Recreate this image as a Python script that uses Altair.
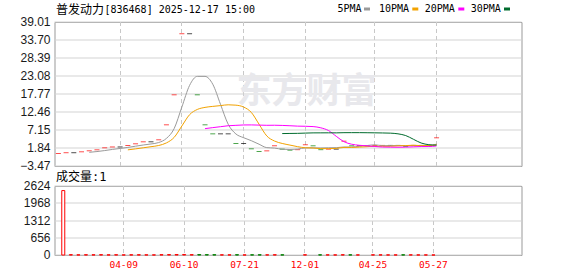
import altair as alt
import pandas as pd

# ---------------- data ----------------
k_idx = list(range(50))
close = [0.22, 0.45, 0.45, 0.72, 1.02, 1.31, 1.90, 2.15, 2.15, 2.58,
         3.08, 3.67, 3.67, 4.26, 8.68, 17.53, 35.55, 35.55, 17.53, 8.68,
         6.02, 6.02, 6.02, 3.17, 3.17, 1.60, 0.81, 1.00, 2.50, 1.50,
         1.20, 1.35, 2.80, 2.49, 1.35, 1.50, 1.50, 3.85, 2.49, 2.49,
         2.49, 2.58, 2.60, 2.60, 2.60, 2.30, 2.60, 2.60, 2.60, 4.85]
# u = up (red), d = down (green), f = flat (black)
direction = ["u", "u", "f", "u", "u", "u", "u", "u", "f", "u",
             "u", "u", "f", "u", "u", "u", "u", "f", "d", "d",
             "d", "f", "f", "d", "f", "d", "d", "u", "u", "d",
             "d", "u", "u", "d", "d", "u", "f", "u", "d", "f",
             "f", "u", "u", "f", "f", "d", "u", "f", "f", "u"]
volume = [2450, 12, 6, 10, 8, 12, 6, 10, 4, 8,
          10, 6, 4, 12, 15, 18, 20, 12, 15, 12,
          10, 6, 6, 10, 4, 6, 8, 6, 10, 6,
          0, 0, 8, 0, 6, 6, 4, 10, 6, 4,
          0, 6, 6, 4, 4, 6, 6, 4, 4, 1]

tick_pos = [8, 16, 24, 32, 41, 49]
tick_labels = ["04-09", "06-10", "07-21", "12-01", "04-25", "05-27"]
price_ticks = [-3.47, 1.84, 7.15, 12.46, 17.77, 23.08, 28.39, 33.70, 39.01]
vol_ticks = [0, 656, 1312, 1968, 2624]

ma_periods = [5, 10, 20, 30]
ma_names = ["5PMA", "10PMA", "20PMA", "30PMA"]
ma_colors = ["#9a9a9a", "#f2a200", "#ff00ff", "#006b2d"]

title_name = "普发动力"
title_rest = "[836468] 2025-12-17 15:00"
vol_title = "成交量:1"
watermark = "东方财富"

RED, GREEN, BLACK = "#ff0000", "#008000", "#000000"
df = pd.DataFrame({"k": k_idx, "close": close, "dir": direction, "vol": volume})

W, H_MAIN, H_VOL = 467, 144, 69
xscale = alt.Scale(domain=[-0.5, 60], nice=False, zero=False)
yscale = alt.Scale(domain=[price_ticks[0], price_ticks[-1]], nice=False, zero=False)
label_expr = " : ".join(f"datum.value == {p} ? '{l}'" for p, l in zip(tick_pos, tick_labels)) + " : ''"

x_main = alt.X("k:Q", scale=xscale, title=None,
               axis=alt.Axis(values=tick_pos, labels=False, ticks=False, domain=False,
                             grid=True, gridDash=[4, 3], gridColor="#c8c8c8",
                             minExtent=0, maxExtent=0))
y_axis_main = alt.Axis(values=price_ticks, format=".2f", grid=True, gridColor="#d3d3d3",
                       labelPadding=4, minExtent=34, maxExtent=34)

# watermark
wm = alt.Chart(pd.DataFrame({"t": [watermark]})).mark_text(
    font="Noto Sans CJK SC", fontSize=35, fontWeight="bold", color="#e8e8ec",
    align="center", baseline="middle").encode(
    text="t:N", x=alt.value(252), y=alt.value(70))

candles = alt.Chart(df).mark_tick(orient="horizontal", size=5, thickness=1).encode(
    x=x_main,
    y=alt.Y("close:Q", scale=yscale, title=None, axis=y_axis_main),
    color=alt.Color("dir:N", scale=alt.Scale(domain=["u", "d", "f"], range=[RED, GREEN, BLACK]),
                    legend=None),
)

ma_layers = []
for n, c in zip(ma_periods, ma_colors):
    ma_layers.append(
        alt.Chart(df)
        .transform_window(ma="mean(close)", frame=[-(n - 1), 0], sort=[alt.SortField("k")])
        .transform_filter(alt.datum.k >= n - 1)
        .mark_line(color=c, strokeWidth=1, interpolate="monotone")
        .encode(x=x_main, y=alt.Y("ma:Q", scale=yscale, title=None, axis=y_axis_main))
    )

t1 = alt.Chart(pd.DataFrame({"t": [title_name]})).mark_text(
    font="Noto Sans CJK SC", fontSize=12, color="#000000", align="left", baseline="middle"
).encode(text="t:N", x=alt.value(1.5), y=alt.value(-12.5))
t2 = alt.Chart(pd.DataFrame({"t": [title_rest]})).mark_text(
    font="DejaVu Sans Mono", fontSize=10, color="#000000", align="left", baseline="middle"
).encode(text="t:N", x=alt.value(50), y=alt.value(-12.5))

legend_layers = []
leg_text_x = [283, 324.5, 370.2, 416.2]
leg_sw_x = [309.5, 357.8, 403.8, 449.5]
for name, c, tx, sx in zip(ma_names, ma_colors, leg_text_x, leg_sw_x):
    legend_layers.append(
        alt.Chart(pd.DataFrame({"t": [name]})).mark_text(
            font="DejaVu Sans Mono", fontSize=10, color="#000000", align="left", baseline="middle"
        ).encode(text="t:N", x=alt.value(tx), y=alt.value(-13))
    )
    legend_layers.append(
        alt.Chart(pd.DataFrame({"t": [name]})).mark_rect(color=c).encode(
            x=alt.value(sx), x2=alt.value(sx + 6), y=alt.value(-14.5), y2=alt.value(-11.5))
    )

main = alt.layer(wm, candles, *ma_layers, t1, t2, *legend_layers).properties(width=W, height=H_MAIN)

vol_bars = alt.Chart(df).transform_filter(alt.datum.vol > 0).mark_bar(size=3, strokeWidth=1).encode(
    x=alt.X("k:Q", scale=xscale, title=None,
            axis=alt.Axis(values=tick_pos, labelExpr=label_expr, ticks=False, domain=False,
                          grid=True, gridDash=[4, 3], gridColor="#c8c8c8",
                          labelColor=RED, labelFont="DejaVu Sans Mono", labelFontSize=9.5,
                          labelPadding=5, labelFlush=False)),
    y=alt.Y("vol:Q", scale=alt.Scale(domain=[0, vol_ticks[-1]], nice=False), title=None,
            axis=alt.Axis(values=vol_ticks, format="d", grid=True, gridColor="#d3d3d3",
                          labelPadding=4, minExtent=34, maxExtent=34)),
    fill=alt.condition("datum.dir == 'd'", alt.value(GREEN), alt.value("#ffffff")),
    stroke=alt.condition("datum.dir == 'd'", alt.value(GREEN), alt.value(RED)),
)
vt = alt.Chart(pd.DataFrame({"t": [vol_title]})).mark_text(
    font="DejaVu Sans Mono, Noto Sans CJK SC", fontSize=12, color="#000000",
    align="left", baseline="middle").encode(text="t:N", x=alt.value(1.5), y=alt.value(-9))

vol = alt.layer(vol_bars, vt).properties(width=W, height=H_VOL)

chart = (
    alt.vconcat(main, vol, spacing=-3)
    .properties(padding={"left": 19.5, "top": 3, "right": 0, "bottom": 0}, background="white")
    .configure_view(stroke="#999999", strokeWidth=1)
    .configure_axis(labelFont="Liberation Sans", labelFontSize=12, labelColor="#1a1a1a",
                    domain=False, ticks=False, translate=0, labelFlush=False,
                    labelOverlap=False, labelBound=False)
)

chart.save("out.html", embed_options={"renderer": "svg", "actions": False})
